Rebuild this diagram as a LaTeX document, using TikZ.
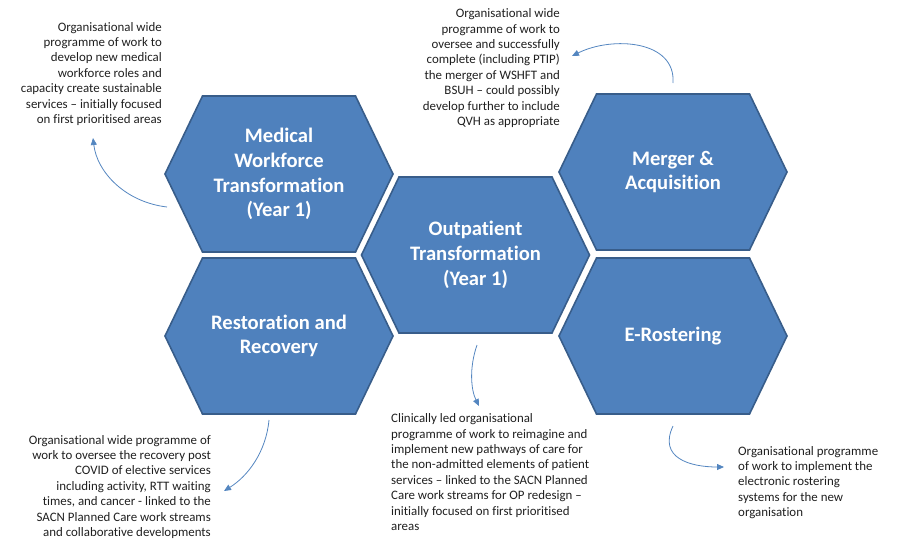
\documentclass[tikz,border=0pt]{standalone}
\usepackage{fontspec}
\setmainfont{Carlito}[Ligatures={TeX,NoCommon}]
\usetikzlibrary{arrows.meta,calc}
\definecolor{hexfill}{RGB}{79,129,189}
\definecolor{hexline}{RGB}{56,93,138}
\definecolor{linkblue}{RGB}{84,134,192}
\begin{document}
\begin{tikzpicture}[x=1pt,y=-1pt,
  hexbox/.style={fill=hexfill,draw=hexline,line width=1.6pt,line join=miter},
  hexlabel/.style={text=white,font=\fontsize{20.6}{24.7}\selectfont\bfseries,align=center,inner sep=0pt},
  note/.style={text=black!88,font=\fontsize{12.9}{15.4}\selectfont,inner sep=0pt},
  link/.style={draw=linkblue,line width=0.8pt,-{Triangle[length=7pt,width=6pt]}}]

\useasboundingbox (0,0) rectangle (897,539);

% five flat-topped hexagons, centre coordinates named after each programme
\foreach \n/\cx/\cy in {mw/279/174, rr/279/336, op/475.5/255, ma/673/172, er/673/336}{
  \coordinate (\n) at (\cx,\cy);
  \draw[hexbox] (\cx-114,\cy) -- ++(37.5,-78) -- ++(153,0) -- ++(37.5,78)
                -- ++(-37.5,78) -- ++(-153,0) -- cycle;
}

% programme titles
\node[hexlabel] (mwlabel) at (mw) {Medical\\Workforce\\Transformation\\(Year 1)};
\node[hexlabel] (rrlabel) at (rr) {Restoration and\\Recovery};
\node[hexlabel] (oplabel) at (op) {Outpatient\\Transformation\\(Year 1)};
\node[hexlabel] (malabel) at (ma) {Merger \&\\Acquisition};
\node[hexlabel] (erlabel) at (er) {E-Rostering};

% descriptions
\node[note,align=right,anchor=north east] (mwnote) at (162,22)
  {Organisational wide\\programme of work to\\develop new medical\\workforce roles and\\capacity create sustainable\\services -- initially focused\\on first prioritised areas};
\node[note,align=right,anchor=north east] (manote) at (560,8.5)
  {Organisational wide\\programme of work to\\oversee and successfully\\complete (including PTIP)\\the merger of WSHFT and\\BSUH -- could possibly\\develop further to include\\QVH as appropriate};
\node[note,align=right,anchor=north east] (rrnote) at (211,435)
  {Organisational wide programme of\\work to oversee the recovery post\\COVID of elective services\\including activity, RTT waiting\\times, and cancer - linked to the\\SACN Planned Care work streams\\and collaborative developments};
\node[note,align=left,anchor=north west] (opnote) at (391,413.5)
  {Clinically led organisational\\programme of work to reimagine and\\implement new pathways of care for\\the non-admitted elements of patient\\services -- linked to the SACN Planned\\Care work streams for OP redesign --\\initially focused on first prioritised\\areas};
\node[note,align=left,anchor=north west] (ernote) at (738,446)
  {Organisational programme\\of work to implement the\\electronic rostering\\systems for the new\\organisation};

% curved links from each hexagon to its description
\coordinate (mwout) at (167,207);  \coordinate (mwin) at (93,138);
\coordinate (maout) at (673,83);   \coordinate (main) at (572,56);
\coordinate (opout) at (477,345);  \coordinate (opin) at (479,406);
\coordinate (rrout) at (269,420);  \coordinate (rrin) at (224,491);
\coordinate (erout) at (673,426);  \coordinate (erin) at (724,467);

\draw[link] (mwout) .. controls (125,202) and (97,172) .. (mwin);
\draw[link] (maout) .. controls (676,40) and (612,36) .. (main);
\draw[link] (opout) .. controls (469,368) and (471,390) .. (opin);
\draw[link] (rrout) .. controls (266,452) and (248,476) .. (rrin);
\draw[link] (erout) .. controls (658,458) and (690,467) .. (erin);
\end{tikzpicture}
\end{document}
